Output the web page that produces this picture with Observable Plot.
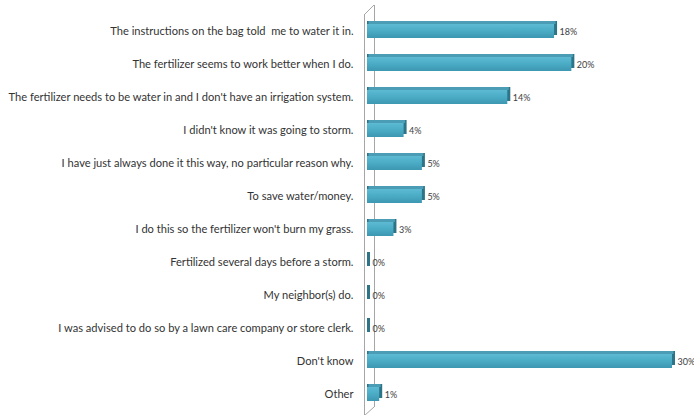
<!DOCTYPE html>
<html><head><meta charset="utf-8">
<script src="https://cdn.jsdelivr.net/npm/d3@7"></script>
<script src="https://cdn.jsdelivr.net/npm/@observablehq/plot@0.6"></script>
<style>body{margin:0;background:#fff}</style>
</head><body><div id="chart"></div>
<script>
const categories = [
  "The instructions on the bag told  me to water it in.",
  "The fertilizer seems to work better when I do.",
  "The fertilizer needs to be water in and I don't have an irrigation system.",
  "I didn't know it was going to storm.",
  "I have just always done it this way, no particular reason why.",
  "To save water/money.",
  "I do this so the fertilizer won't burn my grass.",
  "Fertilized several days before a storm.",
  "My neighbor(s) do.",
  "I was advised to do so by a lawn care company or store clerk.",
  "Don't know",
  "Other"
];
const values = [18.4, 20.1, 13.8, 3.6, 5.4, 5.4, 2.6, 0, 0, 0, 30.0, 1.2];
const valueLabels = ["18%", "20%", "14%", "4%", "5%", "5%", "3%", "0%", "0%", "0%", "30%", "1%"];

const data = categories.map((c, i) => ({category: c, value: values[i], label: valueLabels[i]}));

// fit the label font so the longest category spans the same width as the reference (~346px)
const fontFam = "Lato";
const ctx = document.createElement("canvas").getContext("2d");
ctx.font = `12px ${fontFam}`;
const w = ctx.measureText(categories[2]).width;
const fs = Math.min(13, 12 * 346 / w);

const plot = Plot.plot({
  width: 694,
  height: 415,
  marginLeft: 367,
  marginRight: 22,
  marginTop: 15,
  marginBottom: 0,
  style: {fontFamily: `${fontFam}, sans-serif`, fontSize: `${fs}px`, color: "#333", background: "#fff"},
  x: {domain: [0, 30], axis: null},
  y: {domain: categories, range: [20.5, 404], paddingInner: 0.583, paddingOuter: 0, align: 0.5,
      label: null, tickSize: 0, tickPadding: 14},
  marks: [
    Plot.ruleX([0], {dx: 7, insetTop: -10, insetBottom: 8, stroke: "#a6a6a6"}),
    Plot.ruleX([0], {dx: -3, stroke: "#a6a6a6"}),
    Plot.barX(data, {x: "value", y: "category", fill: "#2d7487", insetRight: -3, dy: -3}),
    Plot.barX(data, {x: "value", y: "category", fill: "#4a9db5", insetBottom: 11, dy: -3, dx: 1.5}),
    Plot.barX(data, {x: "value", y: "category", fill: "url(#frontGrad)"}),
    Plot.text(data, {x: "value", y: "category", text: "label", dx: 5, dy: 0.5, textAnchor: "start", fontSize: 9, fill: "#404040"})
  ]
});

const svg = d3.select(plot);
const defs = svg.insert("defs", ":first-child");
const g = defs.append("linearGradient").attr("id", "frontGrad").attr("x1", 0).attr("y1", 0).attr("x2", 0).attr("y2", 1);
g.append("stop").attr("offset", "0%").attr("stop-color", "#5dbad3");
g.append("stop").attr("offset", "45%").attr("stop-color", "#4cadc7");
g.append("stop").attr("offset", "100%").attr("stop-color", "#3d97b1");

const x0 = plot.scale("x").apply(0);
svg.append("line").attr("x1", x0 - 3).attr("y1", 15).attr("x2", x0 + 7).attr("y2", 5)
  .attr("stroke", "#a6a6a6");
svg.append("line").attr("x1", x0 - 3).attr("y1", 416).attr("x2", x0 + 7).attr("y2", 407)
  .attr("stroke", "#a6a6a6");

document.getElementById("chart").appendChild(plot);
</script>
</body></html>
